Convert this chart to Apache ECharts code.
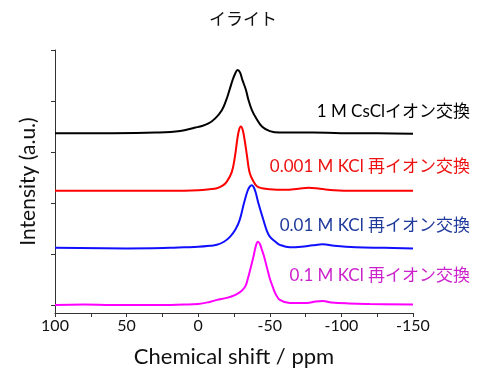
<!DOCTYPE html>
<html>
<head>
<meta charset="utf-8">
<script src="https://cdn.jsdelivr.net/npm/echarts@6/dist/echarts.min.js"></script>
<style>
  html, body { margin: 0; padding: 0; background: #fff; }
  #chart { width: 487px; height: 373px; }
</style>
</head>
<body>
<div id="chart"></div>
<script>
// [ppm, intensity] (stacked with offsets)
var cscl = [[100,3.37],[60,3.37],[30,3.38],[12.6,3.41],[2,3.48],[-1.4,3.50],[-7.2,3.56],[-11.9,3.66],[-16.5,3.82],[-19.6,4.02],[-21.9,4.22],[-24,4.41],[-26,4.55],[-27.5,4.61],[-29.2,4.56],[-30.9,4.41],[-33.3,4.22],[-35.1,4.02],[-37.5,3.82],[-40.5,3.66],[-44.5,3.50],[-50,3.41],[-57,3.38],[-80,3.38],[-100,3.37],[-125,3.37],[-150,3.36]];
var kcl0001 = [[100,2.24],[50,2.24],[20,2.24],[0,2.25],[-8,2.27],[-13,2.29],[-17,2.34],[-20,2.42],[-23.5,2.61],[-25.8,2.94],[-27.3,3.25],[-28.6,3.44],[-29.8,3.50],[-31,3.44],[-32.4,3.24],[-34,2.94],[-35.8,2.61],[-38.6,2.42],[-41,2.33],[-44.5,2.29],[-50,2.27],[-60,2.26],[-70,2.28],[-77,2.30],[-85,2.28],[-95,2.25],[-110,2.24],[-130,2.24],[-150,2.24]];
var kcl001 = [[100,1.12],[50,1.11],[20,1.12],[10,1.13],[0,1.14],[-8,1.16],[-13,1.18],[-18,1.24],[-22,1.33],[-26,1.48],[-29,1.67],[-32,2.00],[-34.5,2.24],[-36,2.32],[-37.3,2.35],[-38.6,2.32],[-40,2.22],[-42,2.00],[-45.5,1.67],[-48,1.45],[-50,1.34],[-54,1.24],[-57,1.18],[-64,1.13],[-72,1.14],[-80,1.17],[-87,1.19],[-95,1.16],[-110,1.13],[-130,1.12],[-150,1.11]];
var kcl01 = [[100,0.0],[80,0.01],[60,0.0],[30,0.0],[10,0.01],[0,0.02],[-8,0.06],[-13,0.10],[-20,0.14],[-26,0.20],[-30,0.27],[-32.8,0.36],[-34.5,0.50],[-36.3,0.69],[-38.6,0.95],[-40.3,1.16],[-41.7,1.24],[-43,1.20],[-44.5,1.08],[-46,0.95],[-48.4,0.69],[-50,0.52],[-52,0.36],[-54,0.22],[-57,0.10],[-64,0.04],[-76,0.04],[-82,0.07],[-87,0.08],[-93,0.05],[-105,0.03],[-120,0.02],[-150,0.01]];

var seriesNames = ['1 M CsClイオン交換', '0.001 M KCl 再イオン交換', '0.01 M KCl 再イオン交換', '0.1 M KCl 再イオン交換'];
var seriesData = [cscl, kcl0001, kcl001, kcl01];
var lineColors = ['#000000', '#ff0000', '#1010ff', '#ff00ff'];
var textColors = ['#000000', '#ee1111', '#1f3a9a', '#cc22cc'];
var labelY = [113, 168, 227, 277];
var yTicks = [0, 1, 2, 3, 4, 5];

var fontLatin = 'Lato, "Noto Sans CJK JP", sans-serif';

var chartDom = document.getElementById('chart');
var myChart = echarts.init(chartDom);
var option;

var series = seriesData.map(function(d, i) {
	return {
		name: seriesNames[i],
		type: 'line',
		data: d,
		smooth: 0.4,
		symbol: 'none',
		lineStyle: { color: lineColors[i], width: 2 },
		animation: false
	};
});

var labels = seriesNames.map(function(n, i) {
	return {
		type: 'text',
		right: 17,
		top: labelY[i] - 10,
		style: {
			text: n,
			fill: textColors[i],
			font: '17px ' + fontLatin
		}
	};
});

option = {
	animation: false,
	backgroundColor: '#fff',
	title: {
		text: 'イライト',
		left: 238,
		top: 5,
		textAlign: 'center',
		textStyle: { fontFamily: '"Noto Sans CJK JP"', fontSize: 17, fontWeight: 'normal', color: '#111' }
	},
	grid: { left: 55, right: 74, top: 50, bottom: 60 },
	xAxis: {
		type: 'value',
		inverse: true,
		min: -150,
		max: 100,
		interval: 25,
		name: 'Chemical shift / ppm',
		nameLocation: 'middle',
		nameGap: 33,
		nameTextStyle: { fontFamily: fontLatin, fontSize: 22, color: '#111' },
		axisLine: { onZero: false, lineStyle: { color: '#333', width: 1 } },
		axisTick: { length: 4, lineStyle: { color: '#333' } },
		axisLabel: {
			interval: 1,
			fontFamily: fontLatin,
			fontSize: 16,
			color: '#111',
			margin: 5,
			formatter: function(v) { return v % 50 === 0 ? String(v) : ''; }
		},
		splitLine: { show: false }
	},
	yAxis: {
		type: 'value',
		min: -0.157,
		max: 5,
		name: 'Intensity (a.u.)',
		nameLocation: 'middle',
		nameGap: 16,
		nameTextStyle: { fontFamily: fontLatin, fontSize: 21, color: '#111' },
		axisLine: { show: true, onZero: false, lineStyle: { color: '#333', width: 1 } },
		axisTick: { show: true, length: 4, customValues: yTicks, lineStyle: { color: '#333' } },
		axisLabel: { show: false },
		splitLine: { show: false }
	},
	graphic: labels,
	series: series
};

option && myChart.setOption(option);
</script>
</body>
</html>
